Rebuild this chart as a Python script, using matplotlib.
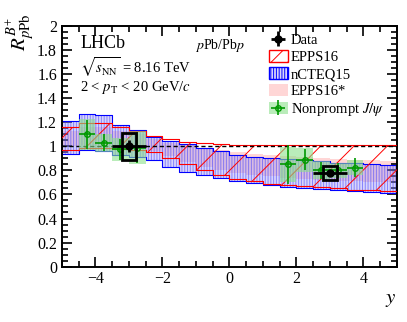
import numpy as np
import matplotlib
matplotlib.use("Agg")
import matplotlib.pyplot as plt
from matplotlib.patches import Patch, Rectangle
from matplotlib.ticker import MultipleLocator, FuncFormatter

plt.rcParams["font.family"] = "serif"
plt.rcParams["font.serif"] = ["Liberation Serif", "DejaVu Serif"]
plt.rcParams["mathtext.fontset"] = "stix"
plt.rcParams["hatch.linewidth"] = 0.7

# theory bins (rapidity edges, 0.5 wide)
edges = np.arange(-5.0, 5.01, 0.5)

ncteq_hi = [1.21, 1.27, 1.26, 1.18, 1.14, 1.075, 1.045, 1.02, 0.99, 0.96,
            0.93, 0.915, 0.90, 0.895, 0.887, 0.875, 0.865, 0.86, 0.85, 0.845]
ncteq_lo = [0.94, 0.97, 0.96, 0.93, 0.91, 0.89, 0.83, 0.785, 0.76, 0.735,
            0.71, 0.695, 0.68, 0.665, 0.655, 0.645, 0.635, 0.625, 0.62, 0.61]

epps_hi = [1.16, 1.19, 1.19, 1.16, 1.13, 1.09, 1.06, 1.04, 1.03, 1.02,
           1.015, 1.012, 1.01, 1.01, 1.01, 1.01, 1.01, 1.01, 1.01, 1.01]
epps_lo = [0.97, 0.99, 0.99, 0.98, 0.97, 0.95, 0.90, 0.85, 0.80, 0.76,
           0.73, 0.71, 0.69, 0.68, 0.67, 0.66, 0.65, 0.64, 0.635, 0.63]

eppsstar_hi = [1.13, 1.16, 1.16, 1.13, 1.10, 1.06, 1.03, 1.01, 0.99, 0.97,
               0.95, 0.94, 0.93, 0.92, 0.91, 0.90, 0.895, 0.89, 0.885, 0.88]
eppsstar_lo = [1.00, 1.01, 1.01, 1.00, 0.98, 0.96, 0.92, 0.87, 0.83, 0.80,
               0.78, 0.76, 0.75, 0.74, 0.73, 0.72, 0.715, 0.71, 0.705, 0.70]

# nonprompt J/psi
jpsi_y = [-4.25, -3.75, -3.25, -2.75, 1.75, 2.25, 2.75, 3.25, 3.75]
jpsi_r = [1.10, 1.03, 0.975, 0.99, 0.85, 0.89, 0.80, 0.80, 0.823]
jpsi_stat = [0.12, 0.07, 0.09, 0.13, 0.16, 0.09, 0.07, 0.06, 0.08]
jpsi_syst = [0.13, 0.075, 0.095, 0.14, 0.145, 0.10, 0.075, 0.06, 0.06]

# B+ data
data_y = [-3.0, 3.0]
data_r = [1.0, 0.78]
data_xerr = [0.5, 0.5]
data_stat = [0.05, 0.02]
data_syst = [0.11, 0.056]


def ext(v):
    return list(v) + [v[-1]]


fig = plt.figure(figsize=(4.07, 3.22), dpi=100)
ax = fig.add_axes([0.152, 0.172, 0.823, 0.747])

pink = (1.0, 0.84, 0.84)
blue_face = (0.62, 0.58, 0.96, 0.4)
ax.fill_between(edges, ext(eppsstar_lo), ext(eppsstar_hi), step="post",
                facecolor=pink, edgecolor="none", zorder=1)
ax.fill_between(edges, ext(ncteq_lo), ext(ncteq_hi), step="post",
                facecolor=blue_face, edgecolor=(0.2, 0.2, 1.0, 0.5),
                hatch="||||||", linewidth=0, zorder=2)
ax.step(edges, ext(ncteq_hi), where="post", color="blue", lw=0.8, zorder=2)
ax.step(edges, ext(ncteq_lo), where="post", color="blue", lw=0.8, zorder=2)
ax.fill_between(edges, ext(epps_lo), ext(epps_hi), step="post",
                facecolor="none", edgecolor="red", hatch="/", linewidth=0, zorder=3)
ax.step(edges, ext(epps_hi), where="post", color="red", lw=0.8, zorder=3)
ax.step(edges, ext(epps_lo), where="post", color="red", lw=0.8, zorder=3)

ax.axhline(1.0, color="black", lw=1.0, ls=(0, (3, 2)), zorder=4)

green_fill = (0.55, 0.88, 0.55, 0.6)
green = (0.0, 0.6, 0.0)
for yc, r, s in zip(jpsi_y, jpsi_r, jpsi_syst):
    ax.add_patch(Rectangle((yc - 0.25, r - s), 0.5, 2 * s, facecolor=green_fill,
                           edgecolor="none", zorder=5))
jp = ax.errorbar(jpsi_y, jpsi_r, xerr=0.25, yerr=jpsi_stat, fmt="o", color=green,
                 mfc="none", mec=green, ms=4, elinewidth=1.2, capsize=0, zorder=6)

for yc, r, s in zip(data_y, data_r, data_syst):
    ax.add_patch(Rectangle((yc - 0.2, r - s), 0.4, 2 * s, facecolor="none",
                           edgecolor="black", lw=2.0, zorder=7))
dt = ax.errorbar(data_y, data_r, xerr=data_xerr, yerr=data_stat, fmt="o",
                 color="black", ms=5, elinewidth=2.0, capsize=0, zorder=8)

ax.set_xlim(-5, 5)
ax.set_ylim(0, 2)
ax.xaxis.set_major_locator(MultipleLocator(2))
ax.xaxis.set_minor_locator(MultipleLocator(0.5))
ax.yaxis.set_major_locator(MultipleLocator(0.2))
ax.yaxis.set_minor_locator(MultipleLocator(0.05))
ax.yaxis.set_major_formatter(FuncFormatter(lambda v, p: "%g" % round(v, 2)))
ax.tick_params(which="both", direction="in", top=True, right=True, labelsize=11.5,
               width=1.2)
ax.tick_params(which="major", length=7)
ax.tick_params(which="minor", length=4)
for sp in ax.spines.values():
    sp.set_linewidth(1.4)

ax.set_xlabel("$y$", fontsize=15, loc="right", labelpad=2)
fig.text(20 / 407, 1 - 32 / 322, r"$R^{B^{+}}_{p\mathrm{Pb}}$", fontsize=15,
         rotation=90, ha="center", va="center")

ax.text(0.055, 0.962, "LHCb", transform=ax.transAxes, fontsize=13, va="top")
ax.text(0.055, 0.828, r"$\sqrt{s_{\mathrm{NN}}}$ = 8.16 TeV", transform=ax.transAxes,
        fontsize=10.5, va="center")
ax.text(0.055, 0.745, r"2 < $p_{\mathrm{T}}$ < 20 GeV/$c$", transform=ax.transAxes,
        fontsize=10.5, va="center")
ax.text(0.397, 0.955, r"$p$Pb/Pb$p$", transform=ax.transAxes, fontsize=10, va="top")

handles = [dt,
           Patch(facecolor="none", edgecolor="red", hatch="//"),
           Patch(facecolor=blue_face, edgecolor="blue", hatch="||||||"),
           Patch(facecolor=pink, edgecolor="none"),
           (Patch(facecolor=green_fill, edgecolor="none"), jp)]
labels = ["Data", "EPPS16", "nCTEQ15", "EPPS16*", r"Nonprompt $J/\psi$"]
ax.legend(handles, labels, loc="upper left", bbox_to_anchor=(0.6, 0.995),
          frameon=False, fontsize=10.5, handlelength=1.3, handleheight=0.9,
          handletextpad=0.2, labelspacing=0.2, borderaxespad=0)

fig.savefig("out.png", dpi=100)
